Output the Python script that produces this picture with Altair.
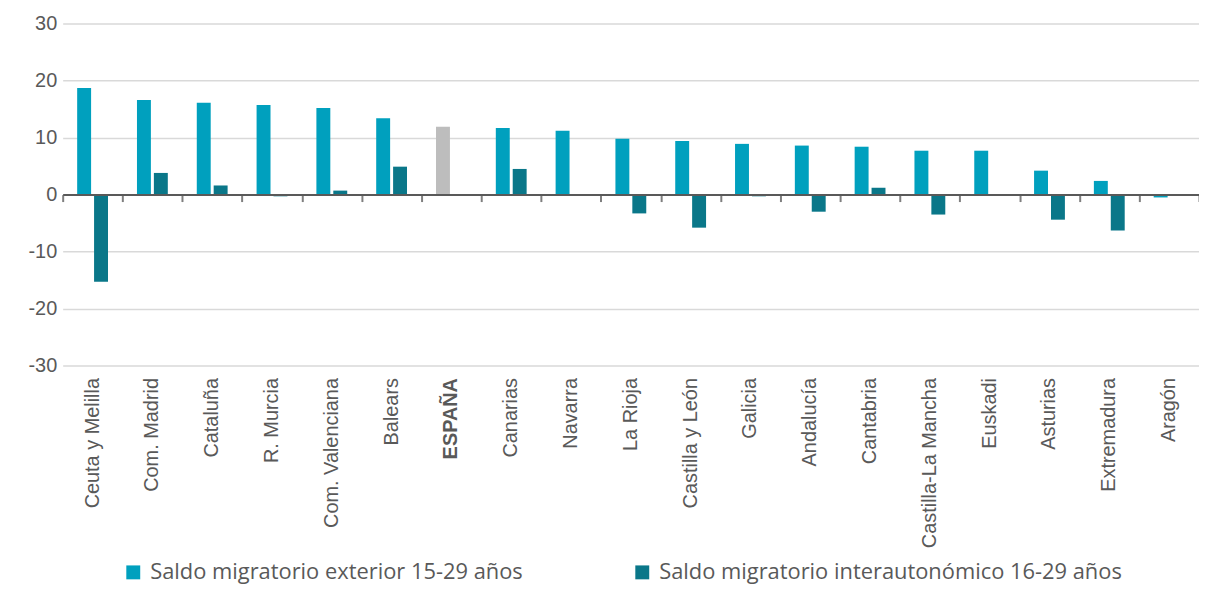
import altair as alt
import pandas as pd

categories = ["Ceuta y Melilla", "Com. Madrid", "Cataluña", "R. Murcia", "Com. Valenciana",
              "Balears", "ESPAÑA", "Canarias", "Navarra", "La Rioja", "Castilla y León",
              "Galicia", "Andalucía", "Cantabria", "Castilla-La Mancha", "Euskadi",
              "Asturias", "Extremadura", "Aragón"]
exterior = [18.7, 16.6, 16.1, 15.7, 15.2, 13.4, 11.9, 11.7, 11.2, 9.8, 9.4, 8.9, 8.6, 8.4,
            7.7, 7.7, 4.2, 2.4, -0.5]
interauto = [-15.3, 3.8, 1.6, -0.3, 0.7, 4.9, None, 4.5, -0.1, -3.3, -5.8, -0.3, -3.0, 1.2,
             -3.5, -0.1, -4.4, -6.3, -0.1]

S1 = "Saldo migratorio exterior 15-29 años"
S2 = "Saldo migratorio interautonómico 16-29 años"

rows = []
for c, e, i in zip(categories, exterior, interauto):
    rows.append({"cat": c, "serie": S1, "valor": e, "ckey": "ESPAÑA" if c == "ESPAÑA" else S1})
    if i is not None:
        rows.append({"cat": c, "serie": S2, "valor": i, "ckey": S2})
df = pd.DataFrame(rows)

W, H = 1143, 344
GREY = "#595959"
FONT = "Liberation Sans"

xscale = alt.Scale(paddingInner=0, paddingOuter=0)

bars = alt.Chart(df).mark_bar().encode(
    x=alt.X("cat:N", sort=categories, scale=xscale, title=None,
            axis=alt.Axis(orient="bottom", domain=False, ticks=False, labelAngle=-90,
                          labelAlign="right", labelBaseline="middle", labelPadding=12,
                          labelFontSize=20, labelColor=GREY, labelFont=FONT,
                          labelLimit=300, grid=False,
                          labelFontWeight=alt.expr("datum.value == 'ESPAÑA' ? 'bold' : 'normal'"))),
    xOffset=alt.XOffset("serie:N", sort=[S1, S2],
                        scale=alt.Scale(paddingInner=0.176, paddingOuter=0.857)),
    y=alt.Y("valor:Q", scale=alt.Scale(domain=[-30, 30]), title=None,
            axis=alt.Axis(values=[-30, -20, -10, 0, 10, 20, 30], domain=False, ticks=False,
                          labelExpr="datum.value + ''",
                          labelFontSize=20, labelColor=GREY, labelFont=FONT, labelPadding=6,
                          gridColor="#D9D9D9", gridWidth=1.5)),
    color=alt.Color("ckey:N",
                    scale=alt.Scale(domain=[S1, S2, "ESPAÑA"],
                                    range=["#00A0BE", "#0A7789", "#BDBDBD"]),
                    legend=alt.Legend(values=[S1, S2], title=None, orient="none",
                                      direction="horizontal", legendX=60, legendY=541,
                                      symbolType="square", symbolSize=196,
                                      symbolStrokeWidth=0, labelFontSize=22,
                                      labelColor=GREY, labelFont="Open Sans", labelOffset=6,
                                      columnPadding=109, labelLimit=600)),
)

zero = alt.Chart(df).mark_bar(opacity=0).encode(
    x=alt.X("cat:N", sort=categories, scale=xscale, title=None,
            axis=alt.Axis(orient="bottom", offset=-H / 2, labels=False, domain=True,
                          domainColor=GREY, domainWidth=2, ticks=True, tickBand="extent",
                          tickColor="#7F7F7F", tickWidth=2, tickSize=7, grid=False,
                          zindex=1)),
    y=alt.Y("valor:Q", axis=None),
)

chart = alt.layer(bars, zero).resolve_axis(x="independent", y="independent").properties(
    width=W, height=H,
    autosize=alt.AutoSizeParams(type="none"),
    padding={"left": 55, "top": 14, "right": 0, "bottom": 218},
).configure_view(stroke=None)

chart.save("out.html", embed_options={"renderer": "svg", "actions": False})
